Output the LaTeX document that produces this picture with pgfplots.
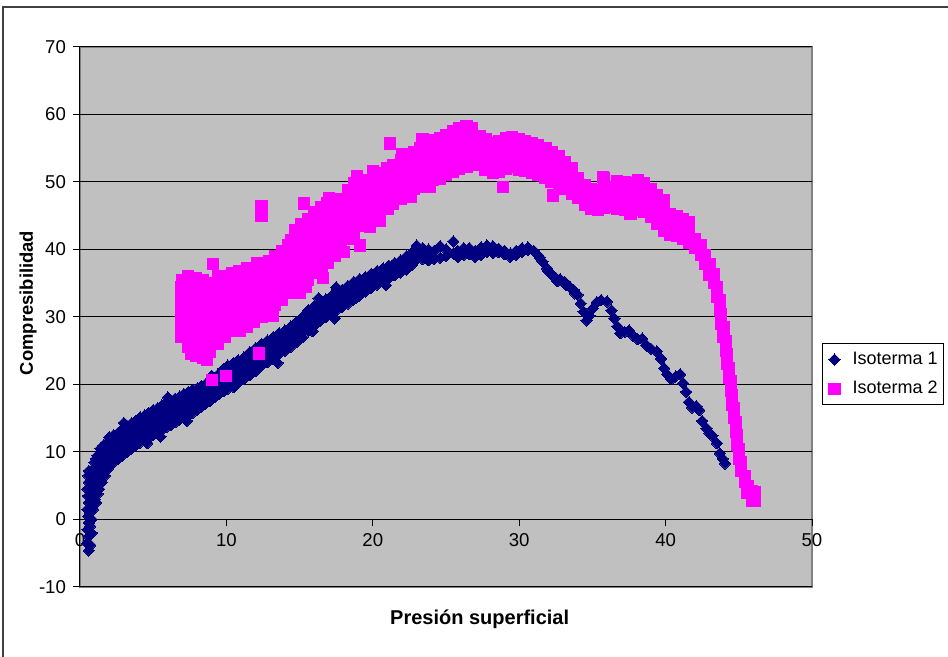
\documentclass[border=0pt]{standalone}
\usepackage{pgfplots}
\pgfplotsset{compat=1.18}
\usepackage{fontspec}
\setmainfont{Liberation Sans}
\definecolor{navy}{HTML}{000080}
\definecolor{plotgray}{HTML}{C0C0C0}
\definecolor{magentaX}{HTML}{FF00FF}
\begin{document}
\begin{tikzpicture}
\useasboundingbox (0,0) rectangle (474pt,328.5pt);
\fill[white] (0,0) rectangle (474pt,328.5pt);
\draw[black!75, line width=0.6pt] (1.5pt,0) -- (1.5pt,325pt) -- (474pt,325pt);
\begin{axis}[
 at={(40pt,35pt)}, anchor=south west,
 scale only axis, width=366pt, height=270pt,
 xmin=0, xmax=50, ymin=-10, ymax=70,
 axis x line=middle, axis y line=left,
 axis line style={-, black, line width=0.5pt},
 axis background/.style={fill=plotgray, draw=gray, line width=0.8pt},
 xtick={0,10,...,50}, ytick={-10,0,...,70},
 ymajorgrids, grid style={black, line width=0.5pt},
 tick align=outside, major tick length=3.5pt,
 tick style={black, line width=0.5pt},
 hide obscured x ticks=false, hide obscured y ticks=false,
 ticklabel style={font=\fontsize{9.3}{10}\selectfont},
 /pgf/number format/assume math mode=true,
 xlabel={Presión superficial}, ylabel={Compresibilidad},
 every axis x label/.style={at={(axis description cs:0.546,0)}, anchor=center, yshift=-16pt, font=\bfseries\fontsize{10}{11}\selectfont},
 every axis y label/.style={at={(axis description cs:0,0.526)}, anchor=center, xshift=-26pt, rotate=90, font=\bfseries\fontsize{9.2}{10}\selectfont},
 legend style={at={(axis description cs:1.0137,0.394)}, anchor=west, draw=black, fill=white, line width=0.5pt, font=\fontsize{9}{10}\selectfont, row sep=3pt, inner xsep=1pt, inner ysep=2pt},
 legend cell align=left,
 legend image code/.code={\path[draw=none] (0,0) -- (12pt,0); \draw[#1] plot coordinates {(5pt,0pt)};},
]
\addplot[only marks, mark=square*, mark size=2.0pt, mark options={rotate=45, fill=navy, draw=navy, line width=0pt}, color=navy] coordinates {
(0.6,-4.6)(0.5,-3.5)(0.6,-2.5)(0.5,-1.5)(0.6,-0.5)(0.55,0.5)(0.5,1.5)(0.6,2.5)(0.55,3.5)(0.5,4.5)(0.6,5.5)(0.55,6.5)(0.6,7.2)
(0.7,-3.8)(0.7,-1)(0.7,1)(0.7,4)(1.1,2.5)(1.2,3.8)(1.5,5.5)(1.6,7.5)(1.7,10)(1.3,8)(1.1,9)
(0.8,-2)(0.8,0)(0.9,1.5)(0.8,3)(0.9,4.5)(0.8,6)(0.9,7.5)(1.0,8.5)(1.0,3)(1.1,5)(1.0,6.5)(1.2,7.5)(1.2,9.5)(1.3,4.5)(1.3,6)
(1.4,8.5)(1.4,10.5)(1.5,7)(1.6,9)(1.6,11)(1.7,6.5)(1.8,8)(1.8,10)(1.9,11.5)(1.9,7.5)
(2.0,8)(2.0,10)(2.0,12.2)(2.3,8.5)(2.3,10.5)(2.3,12.5)(2.6,9)(2.6,11)(2.6,12.8)(2.9,9.5)(2.9,11.5)(2.9,13.4)
(3.2,10)(3.2,12)(3.2,13.9)(3.5,10.5)(3.5,12.5)(3.5,14.2)(3.8,11)(3.8,13)(3.8,14.6)(4.1,11.4)(4.1,13.2)(4.1,15.1)
(4.4,11.8)(4.4,13.6)(4.4,15.4)(4.7,12.1)(4.7,14)(4.7,15.8)(5.0,12.5)(5.0,14.3)(5.0,16.2)(5.3,12.9)(5.3,14.8)(5.3,16.5)
(5.6,13.3)(5.6,15.1)(5.6,16.9)(5.9,13.7)(5.9,15.6)(5.9,17.4)(6.2,14)(6.2,15.9)(6.2,17.6)(6.5,14.4)(6.5,16.2)(6.5,17.9)
(6.8,14.8)(6.8,16.6)(6.8,18.2)(7.1,15)(7.1,16.8)(7.1,18.6)(7.4,15.4)(7.4,17.2)(7.4,18.9)(7.7,15.8)(7.7,17.5)(7.7,19.2)
(8.0,16.2)(8.0,18)(8.0,19.4)(8.3,16.7)(8.3,18.3)(8.3,19.8)(8.6,17.2)(8.6,18.8)(8.6,20.1)(8.9,17.6)(8.9,19.1)(8.9,20.5)
(9.2,18.1)(9.2,19.5)(9.2,21)(9.5,18.6)(9.5,20)(9.5,21.6)(9.8,19)(9.8,20.6)(9.8,22.3)
(2.15,9.2)(2.15,11.4)(2.45,9.7)(2.45,11.7)(2.75,10.2)(2.75,12.2)(3.05,10.7)(3.05,12.7)(3.35,11.2)(3.35,13.1)
(3.65,11.7)(3.65,13.6)(3.95,12.1)(3.95,14)(4.25,12.5)(4.25,14.3)(4.55,12.9)(4.55,14.7)(4.85,13.3)(4.85,15.1)
(5.15,13.6)(5.15,15.6)(5.45,14)(5.45,15.9)(5.75,14.4)(5.75,16.3)(6.05,14.8)(6.05,16.6)(6.35,15.1)(6.35,16.9)
(6.65,15.5)(6.65,17.3)(6.95,15.8)(6.95,17.5)(7.25,16.2)(7.25,17.9)(7.55,16.6)(7.55,18.3)(7.85,17)(7.85,18.6)
(8.15,17.4)(8.15,19)(8.45,17.8)(8.45,19.4)(8.75,18.3)(8.75,19.7)(9.05,18.7)(9.05,20.2)(9.35,19.2)(9.35,20.6)
(9.65,19.6)(9.65,21.2)(9.95,20)(9.95,21.8)
(3.0,14.3)(4.6,11.3)(6.0,18.1)(7.3,14.6)(9.0,21.3)(5.5,12.3)
(10.1,19.4)(10.1,21)(10.1,22.8)(10.5,19.6)(10.5,21.5)(10.5,23.2)(10.8,20.2)(10.8,22.4)(10.8,23.6)(11.2,20.8)(11.2,23)(11.2,24)
(11.6,21.4)(11.6,23.4)(11.6,24.8)(12.0,22)(12.0,24)(12.0,25.4)(12.4,22.8)(12.4,24.5)(12.4,26)(12.8,23.3)(12.8,25)(12.8,26.5)
(13.2,23.8)(13.2,25.5)(13.2,27)(13.6,24.5)(13.6,26.2)(13.6,27.6)(14.0,25)(14.0,26.8)(14.0,28)(14.4,25.6)(14.4,27.3)(14.4,28.6)
(14.8,26.3)(14.8,28)(14.8,29.3)(15.2,27)(15.2,28.7)(15.2,30)(15.6,28)(15.6,29.5)(15.6,31)(16.0,28.7)(16.0,30.3)(16.0,31.6)
(16.4,29.4)(16.4,30.8)(16.4,32)(16.8,30)(16.8,31.3)(16.8,32.6)(17.2,30.5)(17.2,31.8)(17.2,33.2)(17.5,34.4)(17.5,31)(17.5,32.4)
(17.9,31.5)(17.9,33)(17.9,34)(18.3,32)(18.3,33.4)(18.3,34.6)(18.7,32.6)(18.7,34)(18.7,35.2)(18.9,32.9)
(19.1,33.2)(19.1,34.6)(19.1,35.6)(19.5,33.8)(19.5,35)(19.5,35.9)(19.9,34.3)(19.9,35.4)(19.9,36.4)(20.3,34.8)(20.3,35.8)(20.3,36.8)
(20.7,35.3)(20.7,36.3)(20.7,37.2)(21.1,35.8)(21.1,36.8)(21.1,37.6)(21.5,36.2)(21.5,37.3)(21.5,38)(21.9,36.6)(21.9,37.7)(21.9,38.4)
(10.3,20.3)(10.3,22.2)(10.65,21)(10.65,22.8)(11.0,21.8)(11.0,23.5)(11.4,22.2)(11.4,23.8)(11.8,22.6)(11.8,24.2)
(12.2,23.3)(12.2,24.9)(12.6,23.8)(12.6,25.5)(13.0,24.4)(13.0,26)(13.4,25)(13.4,26.5)(13.8,25.5)(13.8,27)
(14.2,26.2)(14.2,27.6)(14.6,26.8)(14.6,28.4)(15.0,27.5)(15.0,29)(15.4,28.3)(15.4,29.8)(15.8,29)(15.8,30.6)
(16.2,29.7)(16.2,31)(16.6,30.3)(16.6,31.6)(17.0,30.9)(17.0,32.2)(17.7,31.9)(17.7,33.4)(18.1,32.6)(18.1,34)
(18.5,33)(18.5,34.4)(18.9,33.6)(18.9,35)(19.3,34.3)(19.3,35.4)(19.7,34.7)(19.7,35.8)(20.1,35.2)(20.1,36.3)
(20.5,35.6)(20.5,36.6)(20.9,36.1)(20.9,37)(21.3,36.6)(21.3,37.5)(21.7,37)(21.7,37.9)
(11.6,21.6)(13.5,23.2)(15.9,27.9)(17.4,29.8)(20.9,34.7)(16.3,32.8)
(22.3,37)(22.3,38.2)(22.3,39)(22.7,37.8)(22.7,38.8)(22.7,39.6)(23.0,40.6)(23.0,38.5)(23.0,39.4)(23.4,38.6)(23.4,39.6)(23.4,40.2)
(23.8,38.4)(23.8,39.2)(23.8,40)(24.2,38.6)(24.2,39.8)(24.6,38.8)(24.6,40.5)(25.0,39)(25.0,40)(25.5,41.2)(25.5,39.4)
(25.8,38.9)(25.8,39.8)(26.2,39.2)(26.2,40.2)(26.6,39.3)(26.6,40.2)(27.0,38.9)(27.0,39.8)(27.4,39.2)(27.4,40.3)
(27.8,39.6)(27.8,40.6)(28.2,40.5)(28.2,39.5)(28.6,39.6)(28.6,40.1)(29.0,39.3)(29.0,39.8)(29.4,38.9)(29.4,39.4)
(29.8,39.2)(29.8,39.8)(30.2,39.6)(30.2,40.2)(30.6,40.3)(30.6,39.9)(31.0,39.8)(31.3,39.1)(31.4,38.8)(31.6,38.2)(31.9,37.2)
(32.0,36.8)(32.2,36.3)(32.5,35.8)(32.6,35.3)(32.8,35.6)(33.1,35.2)(33.2,34.7)(33.4,34.6)(33.7,34)(33.8,33.5)(34.0,33.3)
(34.2,32)(34.4,30.8)(34.6,29.5)(34.8,30.2)(35.0,31.2)(35.3,32.2)(35.6,32.5)(36.0,32.3)(36.3,31)(36.5,29.8)(36.7,28.6)
(36.9,27.6)(37.2,27.8)(37.5,28)(37.8,27.2)(38.1,26.7)(38.4,26.8)(38.7,25.8)(39.0,25.3)(39.4,24.9)(39.7,23.8)(39.9,22.4)
(40.1,21.5)(40.4,20.8)(40.7,21.2)(41.0,21.5)(41.2,20.2)(41.4,18.9)(41.6,17.4)(41.8,16.6)(42.1,16.8)(42.3,16.2)(42.5,14.6)
(42.8,13.5)(43.0,12.8)(43.2,12.4)(43.5,11.3)(43.7,9.8)(43.9,9)(44.05,8.3)
};
\addlegendentry{Isoterma 1}
\addplot[only marks, mark=square*, mark size=2.8pt, mark options={fill=magentaX, draw=magentaX, line width=0pt}, color=magentaX] coordinates {
(6.9,27)(6.9,28.5)(6.9,30)(6.9,31.5)(6.9,33)(6.9,34.5)(7.0,35.5)
(7.4,25.5)(7.4,27)(7.4,28.5)(7.4,30)(7.4,31.5)(7.4,33)(7.4,34.5)(7.4,36)
(7.9,24.2)(7.9,25.8)(7.9,27.3)(7.9,28.8)(7.9,30.3)(7.9,31.8)(7.9,33.3)(7.9,34.8)(7.9,35.8)
(8.4,24)(8.4,25.5)(8.4,27)(8.4,28.5)(8.4,30)(8.4,31.5)(8.4,33)(8.4,34.5)(8.4,35.5)
(8.9,24.8)(8.9,26.3)(8.9,27.8)(8.9,29.3)(8.9,30.8)(8.9,32.3)(8.9,33.8)(8.9,35)
(9.4,26)(9.4,27.5)(9.4,29)(9.4,30.5)(9.4,32)(9.4,33.5)(9.4,35)(9.4,36)
(9.9,27)(9.9,28.5)(9.9,30)(9.9,31.5)(9.9,33)(9.9,34.5)(9.9,36)
(10.4,28)(10.4,29.5)(10.4,31)(10.4,32.5)(10.4,34)(10.4,35.5)(10.4,36.5)
(10.9,28)(10.9,29.5)(10.9,31)(10.9,32.5)(10.9,34)(10.9,35.5)(10.9,36.8)
(11.4,28.5)(11.4,30)(11.4,31.5)(11.4,33)(11.4,34.5)(11.4,36)(11.4,37.2)
(11.9,29.3)(11.9,30.8)(11.9,32.3)(11.9,33.8)(11.9,35.3)(11.9,36.8)(12.1,38)
(12.4,30)(12.4,31.5)(12.4,33)(12.4,34.5)(12.4,36)(12.4,37.5)
(9.1,37.9)(10.0,21.3)(9.0,20.7)(12.2,24.6)(12.4,46.5)(12.4,45)(7.6,24.6)(8.7,23.6)
(12.9,31)(12.9,32.5)(12.9,34)(12.9,35.5)(12.9,37)(12.9,38.3)
(13.3,31.8)(13.3,33.3)(13.3,34.8)(13.3,36.3)(13.3,37.8)(13.3,39)
(13.8,32.5)(13.8,34)(13.8,35.5)(13.8,37)(13.8,38.5)(13.8,39.8)
(14.2,33.5)(14.2,35)(14.2,36.5)(14.2,38)(14.2,39.5)(14.2,40.6)
(14.7,34)(14.7,35.5)(14.7,37)(14.7,38.5)(14.7,40)(14.7,41.5)(14.7,42.8)
(15.1,35)(15.1,36.5)(15.1,38)(15.1,39.5)(15.1,41)(15.1,42.5)(15.1,43.8)
(15.6,35.5)(15.6,37)(15.6,38.5)(15.6,40)(15.6,41.5)(15.6,43)(15.6,44.5)
(16.0,36.5)(16.0,38)(16.0,39.5)(16.0,41)(16.0,42.5)(16.0,44)(16.0,45.5)
(16.5,37.5)(16.5,39)(16.5,40.5)(16.5,42)(16.5,43.5)(16.5,45)(16.5,46.3)
(16.9,38)(16.9,39.5)(16.9,41)(16.9,42.5)(16.9,44)(16.9,45.5)(16.9,46.8)
(17.4,39)(17.4,40.5)(17.4,42)(17.4,43.5)(17.4,45)(17.4,46.5)(17.4,47.5)
(17.8,40)(17.8,41.5)(17.8,43)(17.8,44.5)(17.8,46)(17.8,47.5)
(18.3,41.5)(18.3,43)(18.3,44.5)(18.3,46)(18.3,47.5)(18.3,48.8)
(18.7,42.5)(18.7,44)(18.7,45.5)(18.7,47)(18.7,48.5)(18.7,49.8)
(19.2,43.5)(19.2,45)(19.2,46.5)(19.2,48)(19.2,49.5)(19.2,50.3)
(19.6,44)(19.6,45.5)(19.6,47)(19.6,48.5)(19.6,50)
(20.1,44.8)(20.1,46.3)(20.1,47.8)(20.1,49.3)(20.1,50.8)
(20.5,45.5)(20.5,47)(20.5,48.5)(20.5,50)(20.5,51.3)
(21.0,46)(21.0,47.5)(21.0,49)(21.0,50.5)(21.0,52)
(21.4,46.8)(21.4,48.3)(21.4,49.8)(21.4,51.3)(21.4,52.5)
(21.9,47.5)(21.9,49)(21.9,50.5)(21.9,52)(21.9,53.3)
(22.3,48.3)(22.3,49.8)(22.3,51.3)(22.3,52.8)(22.3,53.8)
(22.8,49)(22.8,50.5)(22.8,52)(22.8,53.5)(22.8,54.5)
(23.2,49.3)(23.2,50.8)(23.2,52.3)(23.2,53.8)(23.2,55)
(23.7,49.8)(23.7,51.3)(23.7,52.8)(23.7,54.3)(23.7,55.5)
(24.1,50.3)(24.1,51.8)(24.1,53.3)(24.1,54.8)(24.1,56.2)
(24.6,50.5)(24.6,52)(24.6,53.5)(24.6,55)(24.6,56.5)
(25.0,51)(25.0,52.5)(25.0,54)(25.0,55.5)(25.0,57)
(25.5,51.5)(25.5,53)(25.5,54.5)(25.5,56)(25.5,57.5)
(25.9,52)(25.9,53.5)(25.9,55)(25.9,56.5)(25.9,58)
(15.3,46.8)(15.0,33.6)(15.4,34.4)(19.1,40.6)(20.5,44.2)(21.2,55.7)(23.4,56.4)(18.9,50.8)
(13.2,30.2)(16.6,35.8)(18.0,39.6)(17.0,47.6)(20.0,51.6)(22.0,54.2)(23.9,49.2)(14.4,41.4)(19.8,43.4)(22.6,47.8)
(26.4,52.3)(26.4,53.8)(26.4,55.3)(26.4,56.8)(26.4,58.3)
(26.8,52.5)(26.8,54)(26.8,55.5)(26.8,57)(26.8,58)
(27.3,52.5)(27.3,54)(27.3,55.5)(27.3,56.8)
(27.7,51.8)(27.7,53.3)(27.7,54.8)(27.7,56.3)
(28.2,51.3)(28.2,52.8)(28.2,54.3)(28.2,55.8)
(28.6,51.5)(28.6,53)(28.6,54.5)(28.6,56)
(29.1,52)(29.1,53.5)(29.1,55)(29.1,56.5)
(29.5,52.2)(29.5,53.7)(29.5,55.2)(29.5,56.6)
(30.0,51.8)(30.0,53.3)(30.0,54.8)(30.0,56.3)
(30.4,51.6)(30.4,53.1)(30.4,54.6)(30.4,56)
(30.9,51.3)(30.9,52.8)(30.9,54.3)(30.9,55.8)
(31.3,51)(31.3,52.5)(31.3,54)(31.3,55.4)
(31.8,50.6)(31.8,52.1)(31.8,53.6)(31.8,55)
(32.2,50)(32.2,51.5)(32.2,53)(32.2,54.5)
(32.7,49.5)(32.7,51)(32.7,52.5)(32.7,53.8)
(33.1,49)(33.1,50.5)(33.1,52)(33.1,53)
(33.6,48.3)(33.6,49.8)(33.6,51.3)(33.6,52)
(34.0,47.6)(34.0,49.1)(34.0,50.6)
(34.5,46.6)(34.5,48.1)(34.5,49.6)
(34.9,46)(34.9,47.5)(34.9,49)
(35.4,45.8)(35.4,47.3)(35.4,48.8)
(35.8,46.2)(35.8,47.7)(35.8,49.2)(35.8,50.6)
(36.3,46.3)(36.3,47.8)(36.3,49.3)
(36.7,46)(36.7,47.5)(36.7,49)(36.7,50.2)
(37.2,45.8)(37.2,47.3)(37.2,48.8)(37.2,50)
(37.6,45.3)(37.6,46.8)(37.6,48.3)(37.6,49.8)
(38.1,45.8)(38.1,47.3)(38.1,48.8)(38.1,50.3)
(38.5,45.5)(38.5,47)(38.5,48.5)(38.5,49.9)
(39.0,44.8)(39.0,46.3)(39.0,47.8)(39.0,49)
(39.4,43.8)(39.4,45.3)(39.4,46.8)(39.4,48)
(39.9,42.8)(39.9,44.3)(39.9,45.8)(39.9,47.3)
(40.3,42.2)(40.3,43.7)(40.3,45.2)
(40.8,42)(40.8,43.5)(40.8,45)
(41.2,41.5)(41.2,43)(41.2,44.5)
(41.6,41)(41.6,42.5)(41.6,44)
(42.0,40.2)(42.0,41.6)(42.4,39.2)(42.4,40.6)(42.7,37.8)(42.7,39.2)(43.0,36.3)(43.0,37.8)
(43.3,35)(43.3,36.3)(43.5,33)(43.5,34.5)(43.7,31)(43.7,32.5)(43.8,29)(43.8,30.5)
(43.95,27)(43.95,28.5)(44.1,25)(44.1,26.5)(44.2,23)(44.2,24.5)(44.35,21)(44.35,22.5)
(44.45,19)(44.45,20.5)(44.55,17)(44.55,18.5)(44.65,15)(44.65,16.5)(44.8,13)(44.8,14.5)
(44.9,11)(44.9,12.5)(45.0,9)(45.0,10.5)(45.15,7.2)(45.15,8.5)(45.4,5.5)(45.4,6.5)
(45.6,4)(45.6,5)(45.9,2.7)(45.9,4.2)(46.1,2.8)(46.1,4)
(28.9,49.3)(32.3,48)(35.7,50.7)
};
\addlegendentry{Isoterma 2}
\end{axis}
\end{tikzpicture}
\end{document}
